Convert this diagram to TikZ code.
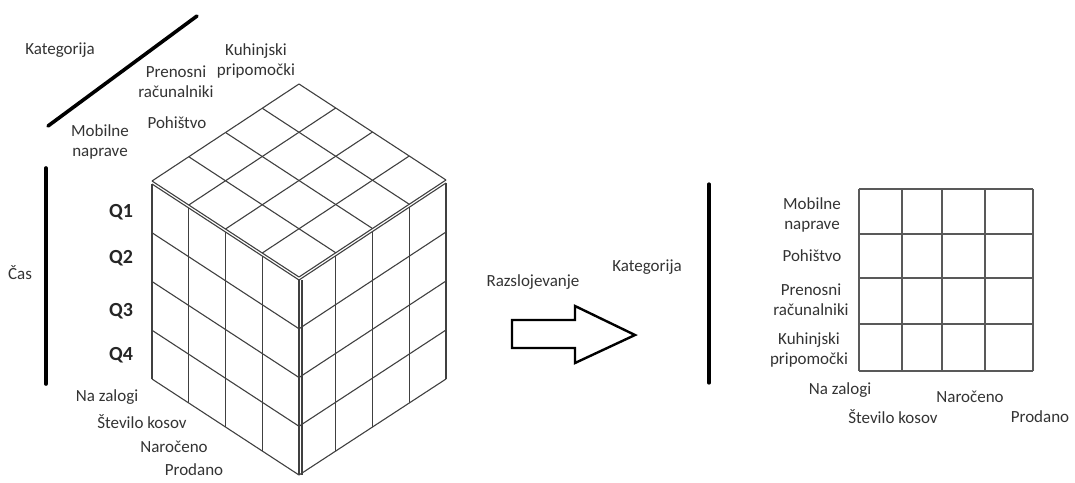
\documentclass[tikz,border=0pt]{standalone}
\usepackage{fontspec}
\setmainfont{Carlito}
\usetikzlibrary{calc}
\begin{document}
\begin{tikzpicture}[x=1pt,y=-1pt,
  lbl/.style={font=\fontsize{17}{20}\selectfont, text=black!80, inner sep=0pt, align=center},
  qlbl/.style={font=\fontsize{20}{22}\selectfont\bfseries, text=black!85, inner sep=0pt},
  gridline/.style={draw=black!75, line width=1.1pt},
  thickbar/.style={line width=3.6pt, black, line cap=round},
  blockarrow/.style={draw=black, line width=2.4pt, line join=miter}]
\useasboundingbox (0,0) rectangle (1075,482);
% cube corners
\coordinate (T) at (299,84);
\coordinate (L) at (152,181);
\coordinate (F) at (299,277);
\coordinate (R) at (446,180);
\coordinate (l0) at (152,184);
\coordinate (f0) at (299,280);
\coordinate (r0) at (446,183);
\coordinate (lb) at (152,379);
\coordinate (fb) at (299,475);
\coordinate (rb) at (446,379);
% top face
\foreach \i in {0,1,2,3,4}{
  \draw[gridline] ($(L)!\i/4!(T)$) -- ($(F)!\i/4!(R)$);
  \draw[gridline] ($(L)!\i/4!(F)$) -- ($(T)!\i/4!(R)$);
}
% left face
\foreach \i in {0,1,2,3,4}{
  \draw[gridline] ($(l0)!\i/4!(f0)$) -- ($(lb)!\i/4!(fb)$);
  \draw[gridline] ($(l0)!\i/4!(lb)$) -- ($(f0)!\i/4!(fb)$);
}
% right face
\foreach \i in {0,1,2,3,4}{
  \draw[gridline] ($(f0)!\i/4!(r0)$) -- ($(fb)!\i/4!(rb)$);
  \draw[gridline] ($(f0)!\i/4!(fb)$) -- ($(r0)!\i/4!(rb)$);
}
\draw[gridline] ([xshift=3pt]f0) -- ([xshift=3pt]fb);
% labels around cube
\coordinate (k1) at (48,126);
\coordinate (k2) at (197,16);
\draw[thickbar] (k1) -- (k2);
\node[lbl] (kat) at (60,50) {Kategorija};
\node[lbl] (kuh) at (256,61) {Kuhinjski\\pripomočki};
\node[lbl] (pre) at (176,82) {Prenosni\\računalniki};
\node[lbl] (poh) at (177,123) {Pohištvo};
\node[lbl] (mob) at (100,142) {Mobilne\\naprave};
\coordinate (c1) at (46,168);
\coordinate (c2) at (46,384);
\draw[thickbar] (c1) -- (c2);
\node[lbl] (cas) at (20,273) {Čas};
\node[qlbl] (q1) at (121,212) {Q1};
\node[qlbl] (q2) at (121,258) {Q2};
\node[qlbl] (q3) at (121,311) {Q3};
\node[qlbl] (q4) at (121,355) {Q4};
\node[lbl] (nz) at (107,397) {Na zalogi};
\node[lbl] (sk) at (142,422) {Število kosov};
\node[lbl] (nar) at (174,447) {Naročeno};
\node[lbl] (pro) at (194,470) {Prodano};
% arrow
\node[lbl] (raz) at (533,282) {Razslojevanje};
\draw[blockarrow] (512,320) -- (575,320) -- (575,306) -- (635,335) -- (575,363) -- (575,348) -- (512,348) -- cycle;
\node[lbl] (kat2) at (647,267) {Kategorija};
\coordinate (v1) at (709,184);
\coordinate (v2) at (709,383);
\draw[thickbar, line width=3.2pt] (v1) -- (v2);
% right grid
\foreach \x in {859,902,942,985,1033}{
  \draw[gridline, draw=black!65] (\x,189) -- (\x,371);
}
\foreach \y in {189,234,278,324,371}{
  \draw[gridline, draw=black!65] (859,\y) -- (1033,\y);
}
\node[lbl] (mob2) at (812,215) {Mobilne\\naprave};
\node[lbl] (poh2) at (812,256) {Pohištvo};
\node[lbl] (pre2) at (811,300) {Prenosni\\računalniki};
\node[lbl] (kuh2) at (809,350) {Kuhinjski\\pripomočki};
\node[lbl] (nz2) at (840,390) {Na zalogi};
\node[lbl] (nar2) at (970,397) {Naročeno};
\node[lbl] (sk2) at (893,417) {Število kosov};
\node[lbl] (pro2) at (1040,417) {Prodano};
\end{tikzpicture}
\end{document}
